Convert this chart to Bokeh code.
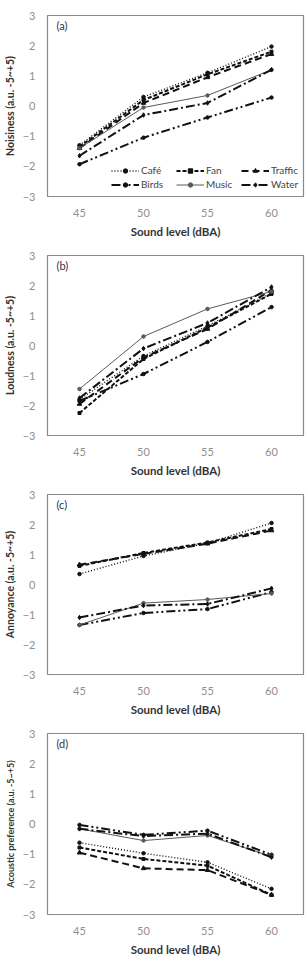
from bokeh.plotting import figure
from bokeh.layouts import column
from bokeh.models import Range1d, FixedTicker, Legend, LegendItem, Label
from bokeh.embed import file_html
from bokeh.resources import INLINE

# Sound levels (dBA) and y ticks
levels = [45, 50, 55, 60]
y_ticks = [-3, -2, -1, 0, 1, 2, 3]
sources = ["Café", "Fan", "Traffic", "Birds", "Music", "Water"]

# (a) Noisiness
noisiness_cafe = [-1.30, 0.30, 1.10, 1.97]
noisiness_fan = [-1.35, 0.20, 1.05, 1.80]
noisiness_traffic = [-1.40, 0.10, 0.95, 1.72]
noisiness_birds = [-1.93, -1.05, -0.38, 0.28]
noisiness_music = [-1.40, -0.05, 0.35, 1.20]
noisiness_water = [-1.65, -0.30, 0.10, 1.20]

# (b) Loudness
loudness_cafe = [-1.80, -0.35, 0.65, 1.75]
loudness_fan = [-2.25, -0.45, 0.60, 1.72]
loudness_traffic = [-1.95, -0.40, 0.55, 1.85]
loudness_birds = [-1.85, -0.95, 0.12, 1.28]
loudness_music = [-1.45, 0.30, 1.22, 1.80]
loudness_water = [-1.75, -0.10, 0.75, 1.95]

# (c) Annoyance
annoyance_cafe = [0.35, 0.95, 1.38, 2.05]
annoyance_fan = [0.62, 1.05, 1.40, 1.85]
annoyance_traffic = [0.66, 1.02, 1.36, 1.80]
annoyance_birds = [-1.35, -0.95, -0.82, -0.25]
annoyance_music = [-1.35, -0.62, -0.50, -0.30]
annoyance_water = [-1.10, -0.70, -0.65, -0.13]

# (d) Acoustic preference
preference_cafe = [-0.62, -0.97, -1.27, -2.15]
preference_fan = [-0.78, -1.16, -1.38, -2.35]
preference_traffic = [-0.95, -1.47, -1.53, -2.35]
preference_birds = [-0.03, -0.36, -0.22, -1.02]
preference_music = [-0.16, -0.55, -0.38, -1.08]
preference_water = [-0.16, -0.40, -0.32, -1.10]

panels = [
    ("(a)", "Noisiness (a.u. -5~+5)",
     [noisiness_cafe, noisiness_fan, noisiness_traffic, noisiness_birds, noisiness_music, noisiness_water]),
    ("(b)", "Loudness (a.u. -5~+5)",
     [loudness_cafe, loudness_fan, loudness_traffic, loudness_birds, loudness_music, loudness_water]),
    ("(c)", "Annoyance (a.u. -5~+5)",
     [annoyance_cafe, annoyance_fan, annoyance_traffic, annoyance_birds, annoyance_music, annoyance_water]),
    ("(d)", "Acoustic preference (a.u. -5~+5)",
     [preference_cafe, preference_fan, preference_traffic, preference_birds, preference_music, preference_water]),
]

# line / marker styles per sound source
line_styles = {
    "Café":    dict(color="#111111", width=1.4, dash="1 2", marker="circle", size=3.5),
    "Fan":     dict(color="#111111", width=2.0, dash="4 2", marker="square", size=3),
    "Traffic": dict(color="#111111", width=2.0, dash="7 4", marker="triangle", size=4.5),
    "Birds":   dict(color="#111111", width=2.0, dash="9 3 2 3 2 3", marker="circle", size=3.5),
    "Music":   dict(color="#5a5a5a", width=1.0, dash="solid", marker="circle", size=3.5),
    "Water":   dict(color="#111111", width=2.0, dash="9 3 2 3", marker="diamond", size=4.5),
}

FONT = "Lato"
figs = []
heights = [240, 239, 239, 240]
top = 15
frame_h = 184

for i, (tag, ytitle, series) in enumerate(panels):
    h = heights[i]
    p = figure(width=308, height=h,
               x_range=Range1d(42.5, 62.5), y_range=Range1d(-3, 3),
               output_backend="svg", toolbar_location=None,
               min_border_left=36, min_border_right=5,
               min_border_top=top, min_border_bottom=h - top - frame_h)
    p.xgrid.visible = False
    p.ygrid.visible = False
    p.outline_line_color = "#8a8a8a"
    p.outline_line_width = 1.2
    p.background_fill_color = "white"

    p.xaxis.ticker = FixedTicker(ticks=levels)
    p.yaxis.ticker = FixedTicker(ticks=y_ticks)
    for ax in (p.xaxis[0], p.yaxis[0]):
        ax.axis_line_color = None
        ax.major_tick_line_color = None
        ax.minor_tick_line_color = None
        ax.major_label_text_font = FONT
        ax.major_label_text_font_size = "11px"
        ax.major_label_text_color = "#8f8f8f"
        ax.axis_label_text_font = FONT
        ax.axis_label_text_font_style = "bold"
        ax.axis_label_text_color = "#333333"
        ax.major_label_standoff = 6
    p.xaxis.axis_label = "Sound level (dBA)"
    p.xaxis.axis_label_text_font_size = "11.5px"
    p.xaxis.axis_label_standoff = 5
    p.yaxis.axis_label = ytitle
    p.yaxis.axis_label_text_font_size = "10.5px" if i < 3 else "9px"
    p.yaxis.axis_label_standoff = 4

    items = []
    for name, ys in zip(sources, series):
        st = line_styles[name]
        lr = p.line(levels, ys, line_color=st["color"], line_width=st["width"],
                    line_dash=st["dash"])
        sr = p.scatter(levels, ys, marker=st["marker"], size=st["size"],
                       fill_color=st["color"], line_color=st["color"])
        items.append(LegendItem(label=name, renderers=[lr, sr]))

    p.add_layout(Label(x=43.2, y=2.68, text=tag, text_font=FONT, text_font_size="11px",
                       text_color="#333333", text_baseline="middle"))

    if i == 0:
        legend = Legend(items=items, ncols=3, orientation="horizontal",
                        location=(64, 6), background_fill_alpha=0,
                        border_line_color=None, padding=0, margin=0, spacing=2,
                        glyph_width=28, glyph_height=11, label_standoff=2,
                        label_width=33, label_height=11,
                        label_text_font=FONT, label_text_font_size="10px",
                        label_text_color="#444444")
        p.add_layout(legend)
    figs.append(p)

layout = column(*figs, spacing=0)
open("out.html", "w").write(file_html(layout, INLINE))
